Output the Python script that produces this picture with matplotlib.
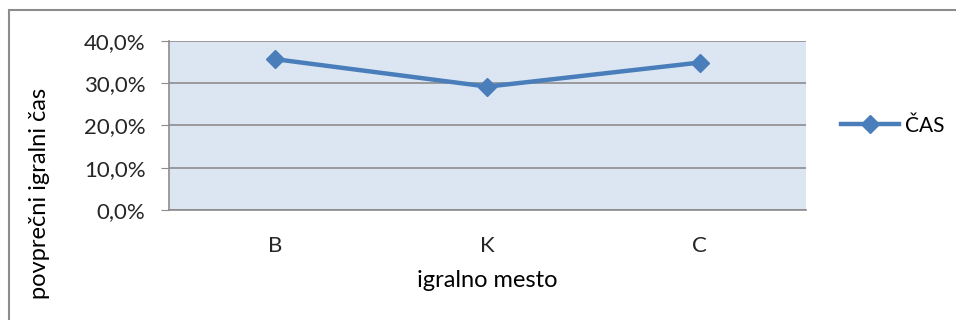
import matplotlib.pyplot as plt
from matplotlib.patches import Rectangle
from matplotlib.ticker import FuncFormatter

plt.rcParams['font.family'] = ['Lato', 'DejaVu Sans']

positions = ["B", "K", "C"]
cas_share = [35.7, 29.2, 34.9]
y_ticks = [0, 10, 20, 30, 40]

fig = plt.figure(figsize=(9.56, 3.2), dpi=100)

# chart area frame (open on the right and bottom)
fig.patches.append(Rectangle((9 / 956, -0.05), 1.1, 1 - 10 / 320 + 0.05,
                             transform=fig.transFigure, fill=False,
                             edgecolor="#8c8c8c", linewidth=1.5))

ax = fig.add_axes([169 / 956, 1 - 210 / 320, 637 / 956, 169 / 320])
ax.set_facecolor("#dce6f2")

x = range(len(positions))
ax.plot(x, cas_share, color="#4a7ebb", linewidth=3.2, marker="D",
        markersize=9, label="ČAS", zorder=3)

ax.set_xlim(-0.5, len(positions) - 0.5)
ax.set_ylim(0, 40)
ax.set_yticks(y_ticks)
ax.yaxis.set_major_formatter(FuncFormatter(lambda v, _: f"{v:.1f}%".replace(".", ",")))
ax.set_xticks(list(x))
ax.set_xticklabels(positions)

ax.grid(axis="y", color="#8c8c8c", linewidth=1.2)
ax.set_axisbelow(True)
for side in ["top", "right"]:
    ax.spines[side].set_visible(False)
for side in ["left", "bottom"]:
    ax.spines[side].set_color("#8c8c8c")
    ax.spines[side].set_linewidth(1.2)

ax.tick_params(axis="y", length=6, color="#8c8c8c", labelsize=16,
               labelcolor="#262626", pad=11)
ax.tick_params(axis="x", length=0, labelsize=16, labelcolor="#262626", pad=19)

ax.set_xlabel("igralno mesto", fontsize=17, labelpad=10)
fig.text(40 / 956, 1 - 193 / 320, "povprečni igralni čas", rotation=90,
         ha="center", va="center", fontsize=17)

ax.legend(loc="center left", bbox_to_anchor=(1.025, 0.5), frameon=False,
          fontsize=15, handlelength=2.8, handletextpad=0.3)

fig.savefig("out.png", dpi=100)
